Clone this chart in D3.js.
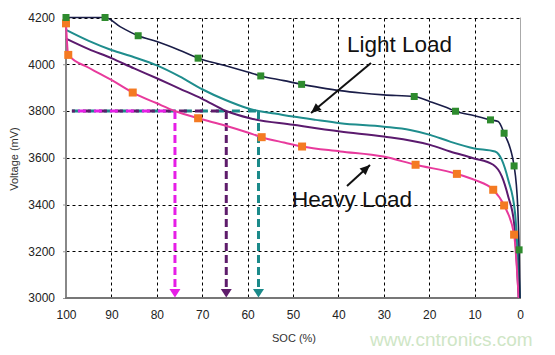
<!DOCTYPE html>
<html><head><meta charset="utf-8">
<script src="https://cdn.jsdelivr.net/npm/d3@7"></script>
<style>
html,body{margin:0;padding:0;background:#fff;}
svg{display:block;font-family:"Liberation Sans",Arial,sans-serif;}
</style></head>
<body>
<svg id="c" width="555" height="355"></svg>
<script>
// ---- data ----
const xTicks = [100,90,80,70,60,50,40,30,20,10,0];
const yTicks = [3000,3200,3400,3600,3800,4000,4200];
// [SOC %, mV]
const lightLoad = [[100,4200],[91.4,4200],[88,4160],[84.1,4122],[80,4097],[75,4060],[70.9,4026],[65,3995],[60,3967],[57.1,3950],[52,3930],[48.1,3914],[44,3900],[39.6,3887],[35,3877],[30,3869],[23.3,3862],[19.8,3840],[15.4,3809],[14.2,3799],[10,3780],[6.5,3762],[4.8,3755],[3.5,3705],[1.3,3565],[0.5,3390],[0.2,3206],[0,3000]];
const lightMarkers = [[100,4200],[91.4,4200],[84.1,4122],[70.9,4026],[57.1,3950],[48.1,3914],[23.3,3862],[14.2,3799],[6.5,3762],[3.5,3705],[1.3,3565],[0.2,3206]];
const load2 = [[100,4147],[95,4100],[90,4061],[85,4030],[80,3995],[75,3948],[70,3893],[65,3848],[60,3812],[57.6,3800],[54,3789],[50,3776],[45,3762],[39.6,3748],[30,3733],[24.2,3719],[19.8,3698],[15.4,3669],[10.3,3641],[5.5,3627],[4,3591],[2.6,3506],[1.1,3365],[0,3000]];
const load3 = [[100,4110],[95,4065],[90,4026],[85,3982],[80,3940],[75,3896],[70,3852],[64.7,3800],[59.5,3769],[50,3741],[39.6,3712],[30,3691],[19.8,3655],[15.4,3627],[10.3,3598],[5.9,3570],[4,3520],[2.6,3434],[1.3,3320],[0.3,3000]];
const heavyLoad = [[100,4175],[99.5,4040],[95,3985],[90,3933],[85.3,3879],[80,3833],[76,3800],[70.9,3769],[65,3738],[60,3708],[56.9,3688],[52,3665],[48,3648],[39.6,3627],[30.1,3605],[23,3570],[13.9,3531],[10,3505],[5.9,3463],[3.5,3396],[1.3,3271],[0.3,3000]];
const heavyMarkers = [[100,4175],[99.5,4040],[85.3,3879],[70.9,3769],[56.9,3688],[48,3648],[23,3570],[13.9,3531],[5.9,3463],[3.5,3396],[1.3,3271]];
const cutoffV = 3800;
const cutoffStart = 98.7;
const cutoffSOC = [76, 64.7, 57.6];
const cutoffColors = ["#e61ee6","#5e1c6b","#1b8a8a"];

// ---- scales ----
const svg = d3.select("#c");
const x = d3.scaleLinear().domain([100,0]).range([66,520]);
const y = d3.scaleLinear().domain([3000,4200]).range([298,17.5]);
const px = v => Math.round(v) + 0.5;

// axes
const ya = svg.append("g").attr("transform",`translate(${x(100)},0)`)
  .call(d3.axisLeft(y).tickValues(yTicks).tickFormat(d3.format("d")).tickSize(3).tickSizeOuter(0).tickPadding(8));
ya.select(".domain").remove();
ya.selectAll(".tick line").attr("stroke","#999");
ya.selectAll("text").attr("font-size",12).attr("fill","#222").attr("font-family","Liberation Sans, Arial, sans-serif");
const xa = svg.append("g").attr("transform",`translate(0,${y(3000)})`)
  .call(d3.axisBottom(x).tickValues(xTicks).tickFormat(d3.format("d")).tickSize(0).tickPadding(12));
xa.select(".domain").remove();
xa.selectAll("text").attr("font-size",12).attr("fill","#222").attr("font-family","Liberation Sans, Arial, sans-serif");

// grid (drawn as one path)
const gridPath = d3.path();
xTicks.filter(d=>d>0&&d<100).forEach(d=>{ gridPath.moveTo(px(x(d)), px(y(4200))); gridPath.lineTo(px(x(d)), px(y(3000))); });
yTicks.filter(d=>d>3000).forEach(d=>{ gridPath.moveTo(px(x(100)), px(y(d))); gridPath.lineTo(px(x(0)), px(y(d))); });
svg.append("path").attr("d",gridPath.toString()).attr("fill","none")
  .attr("stroke","#000").attr("stroke-width",1).attr("stroke-dasharray","3,3");
// right border
svg.append("line").attr("x1",px(x(0))).attr("x2",px(x(0))).attr("y1",y(4200)).attr("y2",y(3000))
  .attr("stroke","#aaa").attr("stroke-width",1);
// axis lines
svg.append("line").attr("x1",x(100)).attr("x2",x(100)).attr("y1",y(4200)).attr("y2",y(3000)+1)
  .attr("stroke","#888").attr("stroke-width",2);
svg.append("line").attr("x1",x(100)-1).attr("x2",x(0)+1).attr("y1",y(3000)).attr("y2",y(3000))
  .attr("stroke","#777").attr("stroke-width",2);

// cutoff dashed lines (horizontal then vertical)
const order = [2,1,0];
order.forEach((i,k)=>{
  svg.append("line").attr("x1",x(cutoffStart)).attr("x2",x(cutoffSOC[i])).attr("y1",y(cutoffV)).attr("y2",y(cutoffV))
    .attr("stroke",cutoffColors[i]).attr("stroke-width",3).attr("stroke-dasharray","8,8").attr("stroke-dashoffset",k*5);
});
cutoffSOC.forEach((s,i)=>{
  const xx = x(s);
  svg.append("line").attr("x1",xx).attr("x2",xx).attr("y1",y(cutoffV)).attr("y2",y(3000)-8)
    .attr("stroke",cutoffColors[i]).attr("stroke-width",3).attr("stroke-dasharray","8,4");
  svg.append("path").attr("d",`M${xx-5.5},${y(3000)-9}L${xx+5.5},${y(3000)-9}L${xx},${y(3000)-0.5}Z`)
    .attr("fill",cutoffColors[i]);
});

// curves
const line = d3.line().x(d=>x(d[0])).y(d=>y(d[1])).curve(d3.curveMonotoneX);
const series = [
  {d:load3, c:"#5b1a6e", w:2},
  {d:load2, c:"#1f8d8d", w:2},
  {d:heavyLoad, c:"#e83a9c", w:2},
  {d:lightLoad, c:"#1a1d48", w:1.6}
];
series.forEach(s=>{
  svg.append("path").attr("d",line(s.d)).attr("fill","none").attr("stroke",s.c).attr("stroke-width",s.w);
});
// markers
svg.selectAll("rect.mh").data(heavyMarkers).enter().append("rect").attr("class","mh")
  .attr("x",d=>x(d[0])-4).attr("y",d=>y(d[1])-4).attr("width",8).attr("height",8).attr("fill","#f47a22");
svg.selectAll("rect.ml").data(lightMarkers).enter().append("rect").attr("class","ml")
  .attr("x",d=>x(d[0])-3.5).attr("y",d=>y(d[1])-3.5).attr("width",7).attr("height",7).attr("fill","#2e8b2e");

// annotations
function arrow(x1,y1,x2,y2){
  svg.append("line").attr("x1",x1).attr("y1",y1).attr("x2",x2).attr("y2",y2).attr("stroke","#111").attr("stroke-width",2);
  const a = Math.atan2(y2-y1,x2-x1), L=10, W=4.5;
  const bx = x2-L*Math.cos(a), by = y2-L*Math.sin(a);
  const ox = -Math.sin(a)*W, oy = Math.cos(a)*W;
  svg.append("path").attr("d",`M${x2},${y2}L${bx+ox},${by+oy}L${bx-ox},${by-oy}Z`).attr("fill","#111");
}
svg.append("text").attr("x",347).attr("y",52).attr("font-size",22.5).attr("fill","#111").text("Light Load");
arrow(371,63,311,113);
svg.append("text").attr("x",292).attr("y",207).attr("font-size",22.5).attr("fill","#111").text("Heavy Load");
arrow(347,186,370,165);

// axis titles
svg.append("text").attr("transform","translate(18,159) rotate(-90)").attr("text-anchor","middle")
  .attr("font-size",11).attr("fill","#333").text("Voltage (mV)");
svg.append("text").attr("x",272).attr("y",342).attr("font-size",11).attr("fill","#333").text("SOC (%)");
svg.append("text").attr("x",370).attr("y",346).attr("font-size",19).attr("fill","#cfe6c6").text("www.cntronics.com");
</script>
</body></html>
